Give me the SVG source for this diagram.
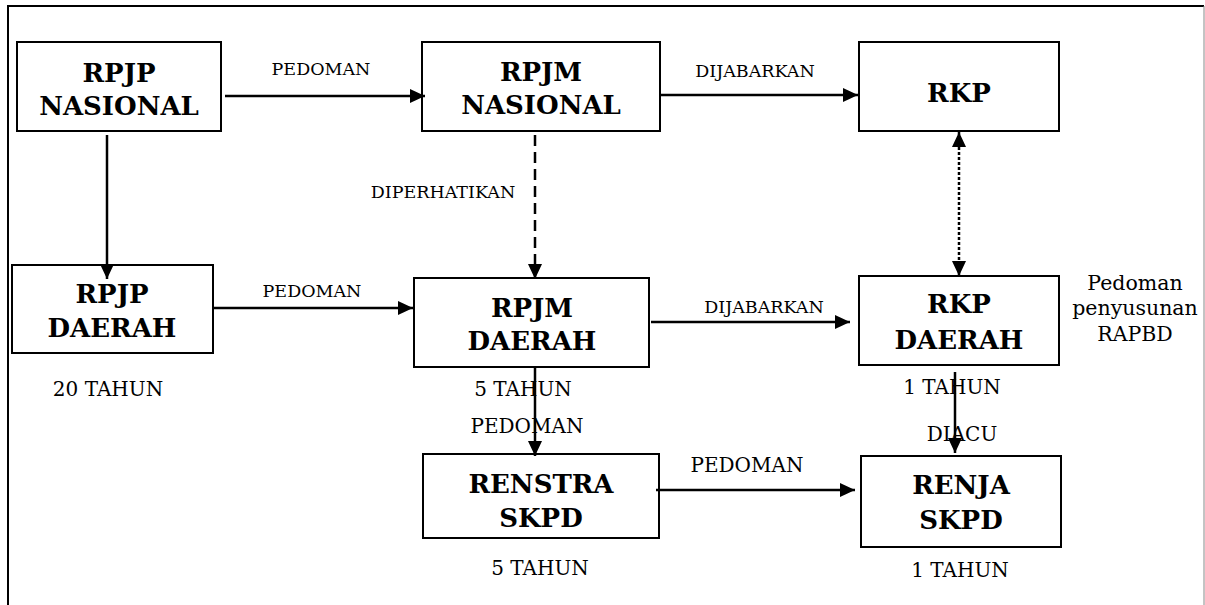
<svg xmlns="http://www.w3.org/2000/svg" width="1205" height="605" viewBox="0 0 1205 605">
<style>
.box{fill:#fff;stroke:#000;stroke-width:2}
.t{font-family:"DejaVu Serif","Liberation Serif",serif;font-weight:bold;font-size:26px;text-anchor:middle;fill:#000}
.l{font-family:"DejaVu Serif","Liberation Serif",serif;font-size:17.5px;text-anchor:middle;fill:#000}
.l2{font-family:"DejaVu Serif","Liberation Serif",serif;font-size:20px;text-anchor:middle;fill:#000}
.l3{font-family:"DejaVu Serif","Liberation Serif",serif;font-size:20.5px;text-anchor:middle;fill:#000}
.c{stroke:#000;stroke-width:2.5;fill:none}
</style>
<defs>
<marker id="ah" markerUnits="userSpaceOnUse" markerWidth="15" markerHeight="14" refX="15" refY="7" orient="auto-start-reverse">
<path d="M0,0 L15,7 L0,14 z" fill="#000"/>
</marker>
</defs>
<rect width="1205" height="605" fill="#fff"/>
<g id="frame">
<line x1="8" y1="6" x2="1204" y2="6" stroke="#000" stroke-width="2"/>
<line x1="8" y1="5" x2="8" y2="605" stroke="#000" stroke-width="2"/>
<line x1="1204" y1="6" x2="1204" y2="605" stroke="#888" stroke-width="1"/>
</g>
<g id="rpjp-nasional">
<rect class="box" x="17" y="42" width="204" height="89"/>
<text class="t" x="119" y="82">RPJP</text>
<text class="t" x="119" y="115">NASIONAL</text>
</g>
<g id="rpjm-nasional">
<rect class="box" x="422" y="42" width="238" height="89"/>
<text class="t" x="541" y="81">RPJM</text>
<text class="t" x="541" y="114">NASIONAL</text>
</g>
<g id="rkp">
<rect class="box" x="859" y="42" width="200" height="89"/>
<text class="t" x="959" y="102">RKP</text>
</g>
<g id="rpjp-daerah">
<rect class="box" x="12" y="265" width="201" height="88"/>
<text class="t" x="112" y="303">RPJP</text>
<text class="t" x="112" y="337">DAERAH</text>
<text class="l2" x="108" y="396">20 TAHUN</text>
</g>
<g id="rpjm-daerah">
<rect class="box" x="414" y="278" width="235" height="89"/>
<text class="t" x="532" y="317">RPJM</text>
<text class="t" x="532" y="350">DAERAH</text>
<text class="l2" x="523" y="396">5 TAHUN</text>
</g>
<g id="rkp-daerah">
<rect class="box" x="859" y="276" width="200" height="89"/>
<text class="t" x="959" y="313">RKP</text>
<text class="t" x="959" y="349">DAERAH</text>
<text class="l2" x="952" y="394">1 TAHUN</text>
<text class="l3" x="1135" y="290">Pedoman</text>
<text class="l3" x="1135" y="315">penyusunan</text>
<text class="l3" x="1135" y="341">RAPBD</text>
</g>
<g id="renstra-skpd">
<rect class="box" x="423" y="454" width="236" height="84"/>
<text class="t" x="541" y="493">RENSTRA</text>
<text class="t" x="541" y="527">SKPD</text>
<text class="l2" x="540" y="575">5 TAHUN</text>
</g>
<g id="renja-skpd">
<rect class="box" x="861" y="456" width="200" height="91"/>
<text class="t" x="961" y="494">RENJA</text>
<text class="t" x="961" y="529">SKPD</text>
<text class="l2" x="960" y="577">1 TAHUN</text>
</g>
<g id="connectors">
<line class="c" x1="225" y1="96" x2="425" y2="96" marker-end="url(#ah)"/>
<line class="c" x1="660" y1="95" x2="858" y2="95" marker-end="url(#ah)"/>
<line class="c" x1="107" y1="135" x2="107" y2="279" marker-end="url(#ah)"/>
<line class="c" x1="535" y1="135" x2="535" y2="279" stroke-dasharray="11,6" marker-end="url(#ah)"/>
<line class="c" x1="959" y1="132" x2="959" y2="276" stroke-dasharray="3,2" marker-start="url(#ah)" marker-end="url(#ah)"/>
<line class="c" x1="213" y1="308" x2="413" y2="308" marker-end="url(#ah)"/>
<line class="c" x1="651" y1="322" x2="850" y2="322" marker-end="url(#ah)"/>
<line class="c" x1="535" y1="367" x2="535" y2="456" marker-end="url(#ah)"/>
<line class="c" x1="955" y1="372" x2="955" y2="453" marker-end="url(#ah)"/>
<line class="c" x1="656" y1="490" x2="855" y2="490" marker-end="url(#ah)"/>
<text class="l" x="321" y="75">PEDOMAN</text>
<text class="l" x="755" y="77">DIJABARKAN</text>
<text class="l" x="443" y="198">DIPERHATIKAN</text>
<text class="l" x="312" y="297">PEDOMAN</text>
<text class="l" x="764" y="313">DIJABARKAN</text>
<text class="l2" x="527" y="433">PEDOMAN</text>
<text class="l2" x="962" y="441">DIACU</text>
<text class="l2" x="747" y="472">PEDOMAN</text>
</g>
</svg>
